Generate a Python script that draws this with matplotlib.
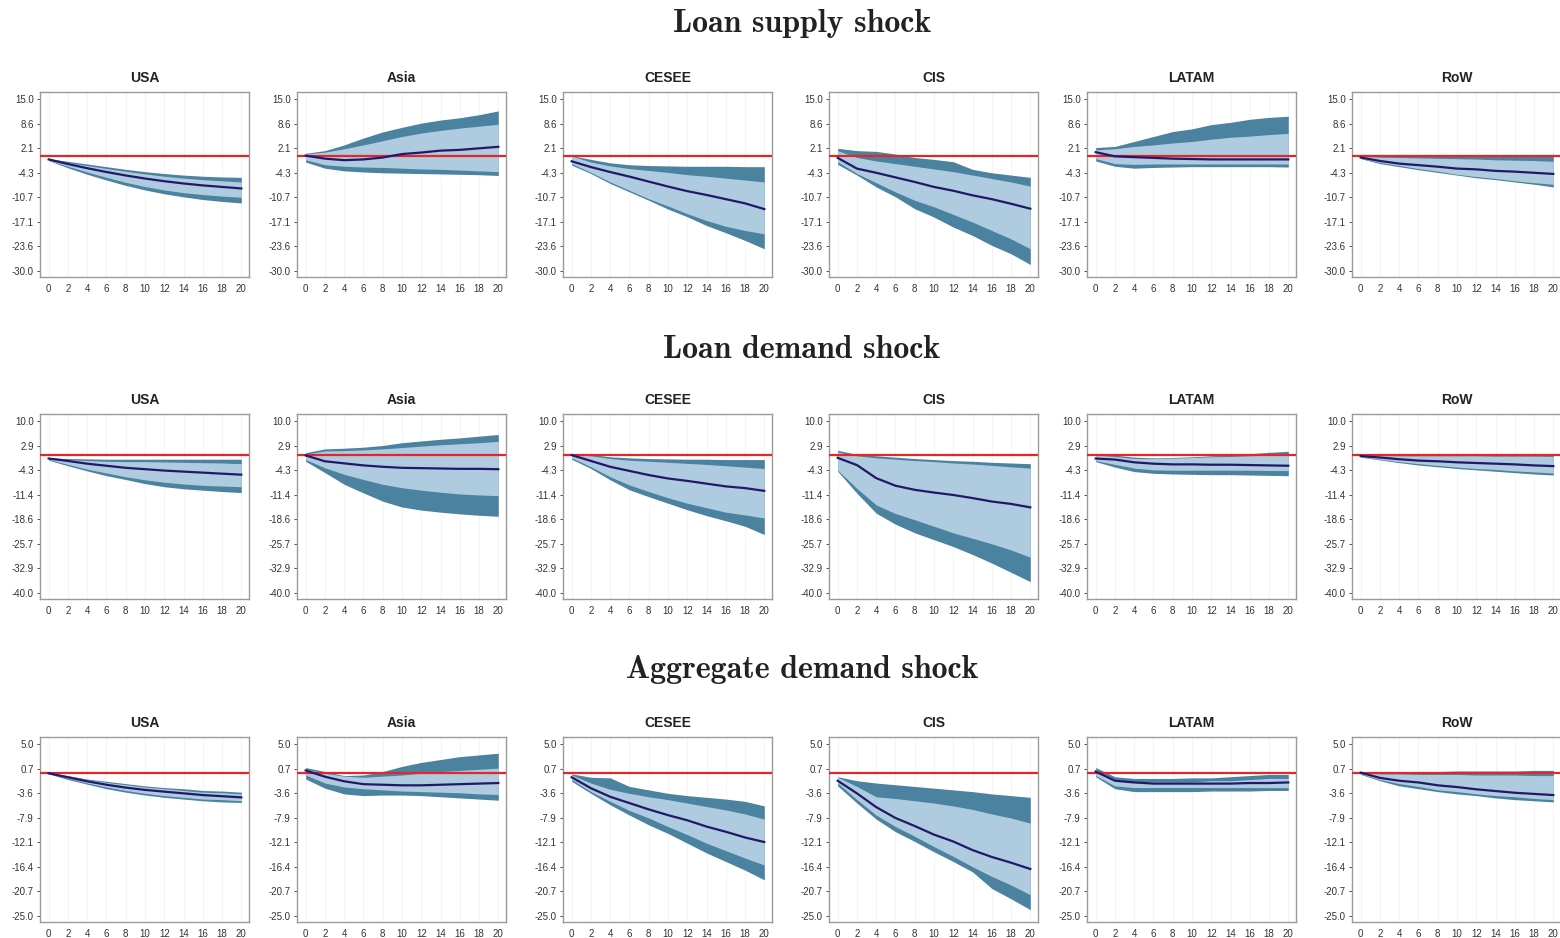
import numpy as np
import matplotlib
matplotlib.use("Agg")
import matplotlib.pyplot as plt

# impulse responses at every second horizon
horizons = [0, 2, 4, 6, 8, 10, 12, 14, 16, 18, 20]
regions = ["USA", "Asia", "CESEE", "CIS", "LATAM", "RoW"]
shocks = ["Loan supply shock", "Loan demand shock", "Aggregate demand shock"]
y_ranges = [(-30.0, 15.0), (-40.0, 10.0), (-25.0, 5.0)]

# --- loan supply shock (rows: USA, Asia, CESEE, CIS, LATAM, RoW)
supply_median = [
    [-0.8, -2.0, -3.1, -4.1, -5.0, -5.8, -6.5, -7.1, -7.6, -8.0, -8.4],
    [0.2, -0.6, -1.0, -0.8, -0.3, 0.6, 1.0, 1.5, 1.7, 2.1, 2.5],
    [-1.3, -2.8, -4.1, -5.3, -6.6, -7.9, -9.1, -10.1, -11.2, -12.3, -13.8],
    [-0.4, -3.2, -4.3, -5.5, -6.7, -8.0, -9.0, -10.2, -11.2, -12.4, -13.7],
    [1.1, 0.0, -0.2, -0.4, -0.6, -0.7, -0.8, -0.8, -0.8, -0.8, -0.8],
    [-0.3, -1.2, -1.9, -2.3, -2.7, -3.2, -3.4, -3.8, -4.0, -4.3, -4.6],
]
supply_outer_hi = [
    [-0.6, -1.3, -2.0, -2.7, -3.4, -4.0, -4.5, -4.9, -5.2, -5.4, -5.5],
    [0.8, 1.5, 3.0, 4.8, 6.4, 7.6, 8.7, 9.5, 10.1, 10.9, 11.9],
    [0.2, -0.8, -1.7, -2.2, -2.4, -2.5, -2.6, -2.6, -2.6, -2.7, -2.7],
    [2.1, 1.5, 1.3, 0.6, -0.3, -0.8, -1.4, -3.4, -4.3, -4.9, -5.5],
    [2.3, 2.6, 3.9, 5.2, 6.5, 7.2, 8.3, 8.9, 9.7, 10.2, 10.5],
    [0.5, 0.5, 0.5, 0.5, 0.5, 0.5, 0.5, 0.5, 0.5, 0.5, 0.5],
]
supply_inner_hi = [
    [-0.7, -1.6, -2.4, -3.2, -3.9, -4.6, -5.2, -5.7, -6.1, -6.4, -6.7],
    [0.6, 1.1, 2.0, 3.0, 4.1, 5.2, 6.1, 6.8, 7.4, 7.9, 8.4],
    [0.1, -1.5, -2.5, -3.2, -3.7, -4.2, -4.8, -5.2, -5.7, -6.2, -6.7],
    [1.5, -0.3, -1.2, -1.9, -2.6, -3.3, -4.0, -4.9, -5.8, -6.7, -7.8],
    [1.7, 2.0, 2.6, 3.0, 3.5, 3.9, 4.5, 5.0, 5.3, 5.7, 6.0],
    [0.0, -0.2, -0.3, -0.4, -0.5, -0.6, -0.7, -0.9, -1.0, -1.1, -1.3],
]
supply_inner_lo = [
    [-1.0, -2.6, -4.1, -5.5, -6.8, -7.9, -8.8, -9.5, -10.0, -10.4, -10.7],
    [-0.9, -2.2, -2.6, -2.8, -2.9, -3.1, -3.3, -3.4, -3.6, -3.8, -4.0],
    [-1.9, -4.2, -6.7, -8.9, -11.1, -13.0, -15.0, -16.8, -18.3, -19.4, -20.3],
    [-1.4, -4.5, -6.9, -9.3, -11.5, -13.2, -15.2, -17.2, -19.4, -21.6, -24.2],
    [-0.6, -1.9, -2.1, -2.0, -2.0, -2.0, -2.0, -2.0, -2.0, -2.0, -2.0],
    [-0.5, -1.6, -2.4, -3.2, -3.9, -4.7, -5.3, -5.8, -6.4, -6.9, -7.3],
]
supply_outer_lo = [
    [-1.1, -3.0, -4.7, -6.2, -7.6, -8.8, -9.8, -10.6, -11.3, -11.8, -12.2],
    [-1.5, -3.1, -3.8, -4.1, -4.3, -4.4, -4.5, -4.6, -4.7, -4.8, -5.0],
    [-2.3, -4.5, -7.1, -9.3, -11.5, -13.8, -15.8, -18.1, -20.0, -22.0, -24.2],
    [-2.1, -4.9, -8.0, -10.6, -13.7, -15.9, -18.5, -20.7, -23.3, -25.5, -28.3],
    [-1.2, -2.6, -3.1, -2.9, -2.8, -2.7, -2.7, -2.7, -2.7, -2.7, -2.8],
    [-0.6, -1.9, -2.7, -3.5, -4.2, -4.9, -5.6, -6.1, -6.7, -7.3, -8.0],
]

# --- loan demand shock
demand_median = [
    [-0.9, -1.6, -2.4, -3.0, -3.6, -4.0, -4.4, -4.7, -5.0, -5.3, -5.6],
    [0.0, -1.7, -2.3, -2.9, -3.3, -3.6, -3.7, -3.8, -3.9, -3.9, -4.0],
    [0.1, -1.6, -3.3, -4.5, -5.7, -6.7, -7.4, -8.2, -9.0, -9.5, -10.3],
    [-0.7, -2.8, -6.6, -8.8, -10.0, -10.8, -11.5, -12.4, -13.4, -14.1, -15.1],
    [-0.9, -1.2, -2.0, -2.4, -2.6, -2.6, -2.7, -2.7, -2.8, -2.9, -3.0],
    [-0.2, -0.6, -1.1, -1.5, -1.7, -2.0, -2.2, -2.4, -2.6, -2.9, -3.1],
]
demand_outer_hi = [
    [-0.7, -0.9, -1.0, -1.1, -1.1, -1.1, -1.1, -1.1, -1.1, -1.1, -1.1],
    [0.8, 1.9, 2.1, 2.4, 2.9, 3.7, 4.2, 4.7, 5.1, 5.6, 6.1],
    [0.6, 0.3, -0.4, -0.7, -0.9, -1.0, -1.1, -1.1, -1.2, -1.2, -1.2],
    [1.5, 0.3, -0.1, -0.5, -0.9, -1.2, -1.5, -1.7, -2.0, -2.2, -2.4],
    [0.4, 0.1, -0.5, -0.7, -0.6, -0.4, -0.1, 0.1, 0.5, 0.9, 1.2],
    [0.1, 0.1, 0.1, 0.1, 0.1, 0.1, 0.1, 0.1, 0.1, 0.1, 0.1],
]
demand_inner_hi = [
    [-0.8, -1.2, -1.5, -1.7, -1.8, -1.8, -1.9, -2.0, -2.1, -2.2, -2.4],
    [0.4, 1.3, 1.4, 1.6, 1.9, 2.3, 2.7, 3.1, 3.4, 3.7, 4.1],
    [0.4, -0.1, -0.9, -1.4, -1.7, -2.0, -2.3, -2.6, -3.0, -3.4, -3.8],
    [1.0, -0.1, -0.7, -1.1, -1.5, -1.8, -2.2, -2.5, -2.9, -3.3, -3.7],
    [0.1, -0.3, -0.9, -0.9, -0.8, -0.6, -0.4, -0.3, -0.1, 0.1, 0.3],
    [0.0, 0.0, -0.1, -0.1, -0.1, -0.1, -0.1, -0.2, -0.2, -0.2, -0.3],
]
demand_inner_lo = [
    [-1.2, -2.6, -4.0, -5.1, -6.2, -7.1, -7.8, -8.3, -8.7, -8.9, -9.1],
    [-1.2, -3.6, -5.5, -7.0, -8.4, -9.4, -10.1, -10.7, -11.2, -11.5, -11.7],
    [-0.7, -3.3, -6.2, -8.6, -10.5, -12.3, -13.9, -15.2, -16.5, -17.3, -18.2],
    [-4.3, -9.6, -14.4, -16.9, -18.7, -20.6, -22.5, -24.1, -25.7, -27.5, -29.6],
    [-1.5, -2.6, -3.7, -4.2, -4.3, -4.3, -4.3, -4.3, -4.3, -4.4, -4.4],
    [-0.4, -1.1, -1.8, -2.4, -2.9, -3.4, -3.8, -4.1, -4.5, -4.8, -5.1],
]
demand_outer_lo = [
    [-1.4, -3.0, -4.5, -5.9, -7.0, -8.2, -9.1, -9.7, -10.1, -10.5, -10.8],
    [-1.7, -5.0, -8.4, -10.9, -13.3, -15.0, -15.9, -16.5, -17.0, -17.4, -17.7],
    [-1.1, -3.8, -7.1, -10.0, -12.0, -13.9, -15.8, -17.5, -19.0, -20.6, -23.0],
    [-4.6, -11.0, -16.8, -20.0, -22.5, -24.5, -26.5, -28.8, -31.3, -34.0, -36.7],
    [-1.8, -3.4, -4.7, -5.2, -5.4, -5.5, -5.6, -5.6, -5.7, -5.8, -5.9],
    [-0.5, -1.3, -2.1, -2.8, -3.3, -3.8, -4.2, -4.6, -5.0, -5.4, -5.7],
]

# --- aggregate demand shock
aggdem_median = [
    [-0.1, -0.8, -1.5, -2.1, -2.6, -3.0, -3.3, -3.6, -3.9, -4.1, -4.3],
    [0.4, -0.7, -1.5, -2.0, -2.1, -2.2, -2.2, -2.1, -2.0, -1.9, -1.8],
    [-0.8, -2.7, -4.2, -5.3, -6.4, -7.4, -8.3, -9.4, -10.3, -11.3, -12.1],
    [-1.4, -3.6, -6.0, -7.9, -9.3, -10.8, -12.0, -13.5, -14.7, -15.7, -16.8],
    [0.2, -1.4, -1.7, -1.9, -1.9, -1.9, -1.9, -1.9, -1.8, -1.8, -1.7],
    [0.0, -0.9, -1.4, -1.7, -2.2, -2.5, -2.9, -3.2, -3.5, -3.7, -3.9],
]
aggdem_outer_hi = [
    [0.0, -0.5, -1.1, -1.5, -1.9, -2.3, -2.6, -2.8, -3.1, -3.2, -3.4],
    [0.9, 0.2, -0.5, -0.4, 0.2, 1.1, 1.8, 2.3, 2.8, 3.1, 3.4],
    [-0.2, -0.8, -0.9, -2.4, -3.0, -3.6, -4.0, -4.3, -4.6, -5.0, -5.8],
    [-0.7, -1.4, -1.8, -2.1, -2.4, -2.7, -3.0, -3.3, -3.7, -4.0, -4.3],
    [0.9, -0.7, -1.0, -1.0, -1.0, -0.9, -0.9, -0.7, -0.5, -0.3, -0.3],
    [0.2, 0.2, 0.2, 0.2, 0.2, 0.3, 0.3, 0.3, 0.3, 0.4, 0.4],
]
aggdem_inner_hi = [
    [0.0, -0.6, -1.2, -1.7, -2.1, -2.5, -2.8, -3.1, -3.4, -3.5, -3.7],
    [0.6, -0.1, -0.6, -0.8, -0.6, -0.4, -0.1, 0.2, 0.4, 0.6, 0.8],
    [-0.4, -1.8, -2.9, -3.6, -4.2, -4.7, -5.3, -5.9, -6.5, -7.2, -8.1],
    [-0.8, -2.4, -4.2, -4.5, -4.9, -5.3, -5.8, -6.4, -7.2, -7.9, -8.8],
    [0.5, -1.2, -1.6, -1.6, -1.6, -1.6, -1.4, -1.4, -1.2, -1.0, -1.0],
    [0.0, -0.2, -0.2, -0.3, -0.3, -0.3, -0.4, -0.4, -0.4, -0.5, -0.5],
]
aggdem_inner_lo = [
    [-0.1, -1.0, -1.8, -2.5, -3.1, -3.6, -4.0, -4.3, -4.6, -4.7, -4.9],
    [-0.4, -1.8, -2.5, -2.8, -3.0, -3.2, -3.3, -3.4, -3.5, -3.7, -3.8],
    [-1.2, -3.3, -5.0, -6.6, -7.9, -9.4, -10.8, -12.3, -13.6, -14.9, -16.1],
    [-1.8, -4.7, -7.4, -9.4, -11.1, -12.9, -14.6, -16.4, -18.1, -19.6, -21.3],
    [-0.5, -2.3, -2.6, -2.6, -2.6, -2.6, -2.6, -2.6, -2.6, -2.6, -2.6],
    [-0.2, -1.2, -1.9, -2.4, -3.0, -3.3, -3.7, -4.0, -4.2, -4.5, -4.7],
]
aggdem_outer_lo = [
    [-0.2, -1.2, -2.0, -2.8, -3.4, -3.9, -4.3, -4.6, -4.9, -5.1, -5.2],
    [-1.1, -2.7, -3.7, -4.0, -3.9, -3.9, -4.0, -4.2, -4.4, -4.6, -4.8],
    [-1.5, -3.6, -5.6, -7.4, -9.1, -10.6, -12.3, -14.0, -15.5, -17.0, -18.7],
    [-2.3, -5.3, -8.1, -10.3, -12.0, -13.8, -15.5, -17.3, -20.2, -22.0, -23.9],
    [-0.7, -2.8, -3.3, -3.3, -3.3, -3.3, -3.2, -3.2, -3.2, -3.1, -3.1],
    [-0.3, -1.4, -2.3, -2.8, -3.3, -3.7, -4.0, -4.4, -4.7, -4.9, -5.1],
]

panels = [
    (supply_median, supply_inner_lo, supply_inner_hi, supply_outer_lo, supply_outer_hi),
    (demand_median, demand_inner_lo, demand_inner_hi, demand_outer_lo, demand_outer_hi),
    (aggdem_median, aggdem_inner_lo, aggdem_inner_hi, aggdem_outer_lo, aggdem_outer_hi),
]

light_blue = "#aecbdf"
dark_blue = "#4a82a0"
navy = "#231868"
red = "#e3262a"

plt.rcParams["font.family"] = ["Liberation Sans", "DejaVu Sans"]

W, H = 1560, 938
fig = plt.figure(figsize=(15.6, 9.38), dpi=100)

# panel placement in pixels
col_left = [40, 297, 563, 829, 1087, 1352]
row_top = [92, 414, 737]
ax_w, ax_h = 209, 185
title_y = [24, 349, 669]

for r, (med, ilo, ihi, olo, ohi) in enumerate(panels):
    fig.text(802 / W, 1 - title_y[r] / H, shocks[r], ha="center", va="center",
             fontsize=23, family="cmb10", color="#222222")
    lo, hi = y_ranges[r]
    span = hi - lo
    ticks = np.linspace(lo, hi, 8)
    for c, name in enumerate(regions):
        ax = fig.add_axes([col_left[c] / W, 1 - (row_top[r] + ax_h) / H,
                           ax_w / W, ax_h / H])
        ax.fill_between(horizons, olo[c], ohi[c], color=dark_blue, lw=0, zorder=2)
        ax.fill_between(horizons, ilo[c], ihi[c], color=light_blue, lw=0, zorder=3)
        ax.axhline(0, color=red, lw=1.6, zorder=4)
        ax.plot(horizons, med[c], color=navy, lw=1.6, zorder=5)

        ax.set_xlim(-0.9, 20.8)
        ax.set_ylim(lo - 0.035 * span, hi + 0.041 * span)
        ax.set_xticks(horizons)
        ax.set_yticks(ticks)
        ax.set_yticklabels([f"{t:.1f}" for t in ticks])
        ax.tick_params(axis="x", length=0, pad=5, labelsize=7, colors="#333333")
        ax.tick_params(axis="y", length=2.5, width=0.6, pad=2, labelsize=7,
                       colors="#333333")
        ax.grid(axis="x", color="#f4f4f4", lw=0.8, zorder=0)
        for s in ax.spines.values():
            s.set_color("#9a9a9a")
            s.set_linewidth(1.0)
        ax.set_title(name, fontsize=10, fontweight="bold", pad=7, color="#222222")

fig.savefig("out.png", dpi=100)
